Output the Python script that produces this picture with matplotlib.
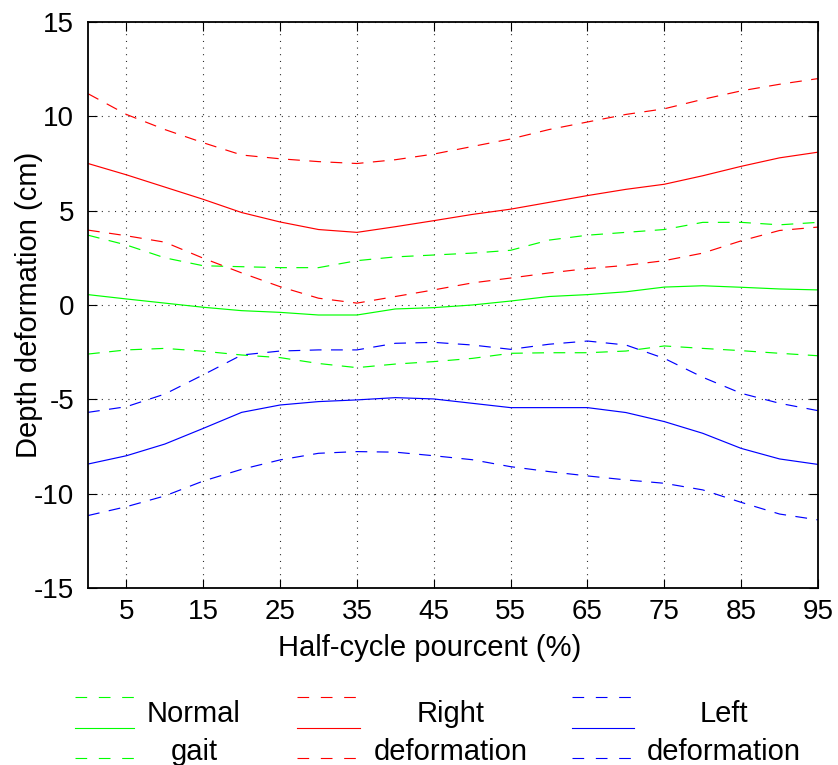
import matplotlib
matplotlib.use("Agg")
import matplotlib.pyplot as plt
import numpy as np

plt.rcParams["font.family"] = ["Liberation Sans", "DejaVu Sans"]
plt.rcParams["axes.unicode_minus"] = False

# half-cycle percentages
x = [0, 5, 10, 15, 20, 25, 30, 35, 40, 45, 50, 55, 60, 65, 70, 75, 80, 85, 90, 95]

# Normal gait (mean and +/- bands)
normal_up = [3.7, 3.18, 2.5, 2.08, 2.03, 1.98, 1.98, 2.35, 2.55, 2.65, 2.75, 2.9, 3.44, 3.7, 3.85, 4.0, 4.38, 4.38, 4.25, 4.38]
normal_mid = [0.55, 0.32, 0.1, -0.12, -0.3, -0.39, -0.53, -0.53, -0.21, -0.14, 0.0, 0.21, 0.45, 0.55, 0.7, 0.95, 1.02, 0.94, 0.85, 0.8]
normal_low = [-2.6, -2.38, -2.3, -2.45, -2.65, -2.79, -3.1, -3.32, -3.13, -3.0, -2.83, -2.56, -2.53, -2.53, -2.44, -2.17, -2.3, -2.42, -2.56, -2.69]

# Right deformation
right_up = [11.2, 10.1, 9.3, 8.6, 7.95, 7.75, 7.6, 7.5, 7.7, 8.0, 8.4, 8.8, 9.3, 9.7, 10.1, 10.4, 10.9, 11.35, 11.7, 12.0]
right_mid = [7.5, 6.9, 6.25, 5.6, 4.9, 4.4, 4.0, 3.85, 4.15, 4.47, 4.8, 5.08, 5.44, 5.8, 6.13, 6.4, 6.85, 7.35, 7.8, 8.1]
right_low = [3.97, 3.67, 3.33, 2.48, 1.7, 0.97, 0.36, 0.1, 0.45, 0.8, 1.17, 1.43, 1.7, 1.93, 2.1, 2.35, 2.75, 3.4, 3.95, 4.13]

# Left deformation
left_up = [-5.69, -5.39, -4.72, -3.7, -2.65, -2.44, -2.38, -2.38, -2.03, -1.98, -2.12, -2.35, -2.08, -1.91, -2.12, -2.83, -3.83, -4.68, -5.21, -5.6]
left_mid = [-8.43, -7.99, -7.37, -6.54, -5.69, -5.3, -5.12, -5.03, -4.91, -4.98, -5.21, -5.44, -5.44, -5.44, -5.7, -6.18, -6.8, -7.6, -8.16, -8.45]
left_low = [-11.16, -10.69, -10.12, -9.33, -8.71, -8.21, -7.86, -7.77, -7.8, -7.99, -8.2, -8.57, -8.83, -9.06, -9.27, -9.45, -9.8, -10.46, -11.08, -11.39]

labels = ["Normal\ngait", "Right\ndeformation", "Left\ndeformation"]
colors = ["#00ff00", "#ff0000", "#0000ff"]
groups = [(normal_up, normal_mid, normal_low),
          (right_up, right_mid, right_low),
          (left_up, left_mid, left_low)]

dash = (0, (10, 8))
W, H = 838, 765
fig = plt.figure(figsize=(W / 100, H / 100), dpi=100)
ax = fig.add_axes([88 / W, 1 - 588 / H, 730 / W, 566 / H])

for (up, mid, low), c in zip(groups, colors):
    ax.plot(x, up, color=c, lw=0.85, linestyle=dash)
    ax.plot(x, mid, color=c, lw=0.85)
    ax.plot(x, low, color=c, lw=0.85, linestyle=dash)

ax.set_xlim(0, 95)
ax.set_ylim(-15, 15)
ax.set_xticks(np.arange(5, 96, 10))
ax.set_yticks(np.arange(-15, 16, 5))
ax.grid(True, color="black", lw=0.8, linestyle=(0, (0.8, 5.2)))
ax.tick_params(direction="in", top=True, right=True, length=6.5, width=0.8,
               labelsize=20)
ax.tick_params(axis="y", pad=10)
ax.tick_params(axis="x", pad=8)
for s in ax.spines.values():
    s.set_linewidth(1.3)

ax.set_ylabel("Depth deformation (cm)", fontsize=21)
ax.yaxis.set_label_coords(-0.062, 0.5)
ax.set_xlabel("Half-cycle pourcent (%)", fontsize=21)
ax.xaxis.set_label_coords(0.468, -0.082)

# legend drawn in figure pixel space: dashed / solid / dashed handle + centred text
lax = fig.add_axes([0, 0, 1, 1], zorder=-1)
lax.set_xlim(0, W)
lax.set_ylim(H, 0)
lax.axis("off")
handle_x = [(75, 134), (297, 360), (572, 634)]
text_x = [194, 451, 724]
for (x0, x1), tx, lab, c in zip(handle_x, text_x, labels, colors):
    lax.plot([x0, x1], [697, 697], color=c, lw=0.8, linestyle=(0, (10.5, 10.5)))
    lax.plot([x0, x1], [727.5, 727.5], color=c, lw=0.8)
    lax.plot([x0, x1], [758, 758], color=c, lw=0.8, linestyle=(0, (10.5, 10.5)))
    lax.text(tx, 733, lab, ha="center", va="center", fontsize=21,
             linespacing=1.45, multialignment="center")

fig.savefig("out.png", dpi=100)
